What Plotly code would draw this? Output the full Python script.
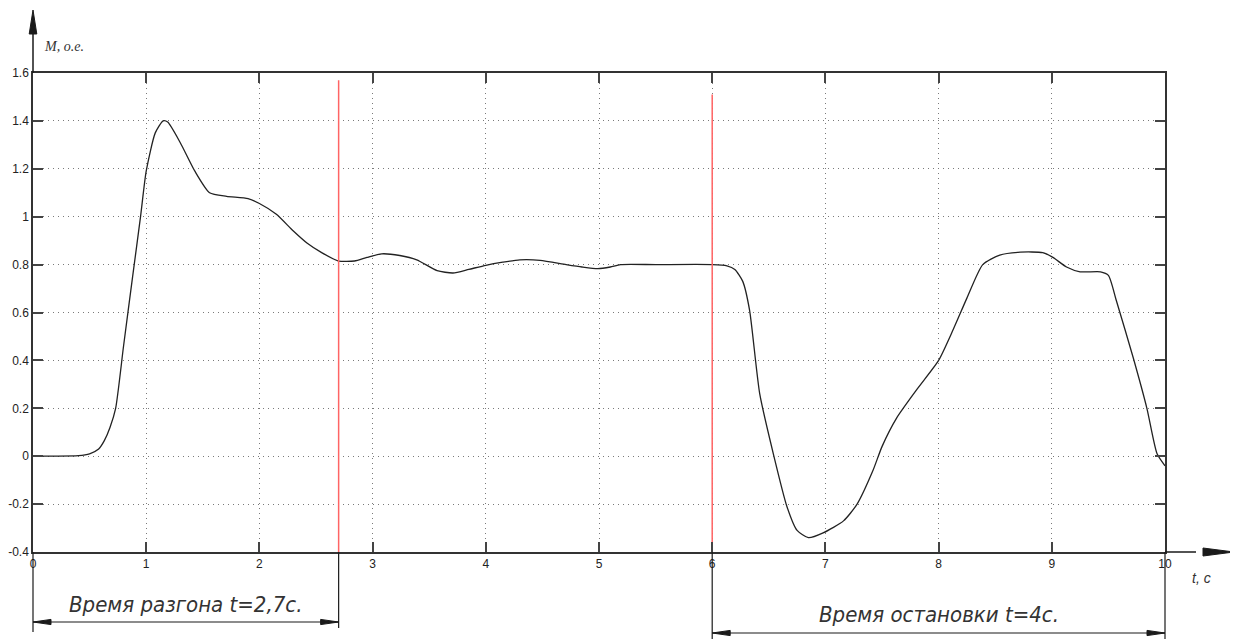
import plotly.graph_objects as go

# ---- data ----
t_values = [0, 0.2, 0.4, 0.5, 0.58, 0.63, 0.68, 0.73, 0.8, 0.88, 0.95, 1.0, 1.08, 1.15, 1.19,
            1.3, 1.43, 1.56, 1.71, 1.9, 2.0, 2.15, 2.3, 2.42, 2.55, 2.7, 2.84, 2.95, 3.08, 3.24,
            3.39, 3.57, 3.71, 3.85, 4.0, 4.15, 4.3, 4.48, 4.71, 4.85, 4.99, 5.1, 5.19, 5.5, 6.0,
            6.13, 6.2, 6.27, 6.33, 6.42, 6.54, 6.66, 6.75, 6.85, 6.98, 7.16, 7.28, 7.42, 7.5,
            7.63, 7.81, 8.0, 8.13, 8.25, 8.39, 8.54, 8.72, 8.92, 9.01, 9.13, 9.25, 9.43, 9.5,
            9.57, 9.72, 9.84, 9.93, 10.0]
m_values = [0, 0, 0.002, 0.01, 0.03, 0.065, 0.12, 0.2, 0.46, 0.75, 1.0, 1.19, 1.35, 1.40, 1.395,
            1.31, 1.19, 1.10, 1.085, 1.075, 1.055, 1.01, 0.94, 0.89, 0.85, 0.815, 0.815, 0.83, 0.845, 0.838,
            0.82, 0.775, 0.765, 0.78, 0.797, 0.81, 0.82, 0.818, 0.80, 0.79, 0.783, 0.79, 0.80, 0.80, 0.80,
            0.795, 0.78, 0.73, 0.61, 0.26, 0.01, -0.21, -0.31, -0.34, -0.32, -0.27, -0.20, -0.06, 0.04,
            0.16, 0.28, 0.40, 0.53, 0.66, 0.80, 0.84, 0.852, 0.85, 0.83, 0.79, 0.77, 0.77, 0.755,
            0.65, 0.41, 0.20, 0.01, -0.04]

marker_t = [2.7, 6.0]          # red vertical markers
marker_top = [1.57, 1.51]

x_ticks = [0, 1, 2, 3, 4, 5, 6, 7, 8, 9, 10]
x_labels = ["0", "1", "2", "3", "4", "5", "6", "7", "8", "9", "10"]
y_ticks = [-0.4, -0.2, 0, 0.2, 0.4, 0.6, 0.8, 1.0, 1.2, 1.4, 1.6]
y_labels = ["-0.4", "-0.2", "0", "0.2", "0.4", "0.6", "0.8", "1", "1.2", "1.4", "1.6"]

dim_start = [0, 6]
dim_end = [2.7, 10]
dim_labels = ["Время разгона t=2,7с.", "Время остановки t=4с."]

x_title = "t, c"
y_title = "M, o.e."

# ---- layout geometry (page pixels; the page body adds an 8px offset) ----
OFF = 8
W, H = 1238 - OFF, 639 - OFF
PL, PR, PT, PB = 33, 1165, 73, 552          # plot box in page pixels
ML, MT = PL - OFF, PT - OFF
MR, MB = W - (PR - OFF), H - (PB - OFF)
PW, PH = PR - PL, PB - PT
X_RANGE = [0, 10]
Y_RANGE = [-0.4, 1.6]


def px_to_paper_x(px):
    return (px - PL) / PW


def px_to_paper_y(py):
    return (PB - py) / PH


def data_to_paper_x(t):
    return (t - X_RANGE[0]) / (X_RANGE[1] - X_RANGE[0])


fig = go.Figure()

fig.add_trace(go.Scatter(x=t_values, y=m_values, mode="lines",
                         line=dict(color="#222222", width=1.3, shape="spline", smoothing=0.6),
                         hoverinfo="skip", showlegend=False))

for t, top in zip(marker_t, marker_top):
    fig.add_trace(go.Scatter(x=[t, t], y=[Y_RANGE[0], top], mode="lines",
                             line=dict(color="#ff6464", width=1.5),
                             hoverinfo="skip", showlegend=False))

shapes = []
annotations = []
dark = "#1a1a1a"

# y-axis extension and arrowhead
y_tip = px_to_paper_y(10)
y_base = px_to_paper_y(34)
shapes.append(dict(type="line", xref="paper", yref="paper", x0=0, x1=0, y0=1, y1=y_base,
                   line=dict(color=dark, width=1.5)))
hx = 3.8 / PW
shapes.append(dict(type="path", xref="paper", yref="paper",
                   path=f"M {-hx} {y_base} L 0 {y_tip} L {hx} {y_base} Z",
                   fillcolor=dark, line=dict(color=dark, width=1)))

# x-axis extension and arrowhead
x_tip = px_to_paper_x(1234)
x_base = px_to_paper_x(1203)
shapes.append(dict(type="line", xref="paper", yref="paper", x0=1, x1=px_to_paper_x(1196), y0=0, y1=0,
                   line=dict(color=dark, width=1.5)))
hy = 4 / PH
shapes.append(dict(type="path", xref="paper", yref="paper",
                   path=f"M {x_base} {-hy} L {x_tip} 0 L {x_base} {hy} Z",
                   fillcolor=dark, line=dict(color=dark, width=1)))

# dimension lines
ext_bottoms = [[632, 628], [639, 639]]
arrow_ys = [622, 633]
text_ys = [604, 614]
ah_len = 18 / PW
ah_h = 2.6 / PH
for i in range(len(dim_start)):
    xs, xe = data_to_paper_x(dim_start[i]), data_to_paper_x(dim_end[i])
    for xv, yb in zip([xs, xe], ext_bottoms[i]):
        shapes.append(dict(type="line", xref="paper", yref="paper", x0=xv, x1=xv,
                           y0=0, y1=px_to_paper_y(yb), line=dict(color=dark, width=1.2)))
    ya = px_to_paper_y(arrow_ys[i])
    shapes.append(dict(type="line", xref="paper", yref="paper", x0=xs, x1=xe, y0=ya, y1=ya,
                       line=dict(color=dark, width=1.2)))
    shapes.append(dict(type="path", xref="paper", yref="paper",
                       path=f"M {xs} {ya} L {xs + ah_len} {ya + ah_h} L {xs + ah_len} {ya - ah_h} Z",
                       fillcolor=dark, line=dict(color=dark, width=1)))
    shapes.append(dict(type="path", xref="paper", yref="paper",
                       path=f"M {xe} {ya} L {xe - ah_len} {ya + ah_h} L {xe - ah_len} {ya - ah_h} Z",
                       fillcolor=dark, line=dict(color=dark, width=1)))
    annotations.append(dict(text=dim_labels[i], xref="paper", yref="paper",
                            x=(xs + xe) / 2, y=px_to_paper_y(text_ys[i]),
                            xanchor="center", yanchor="middle", showarrow=False,
                            font=dict(family="Liberation Sans Narrow, DejaVu Sans Condensed, Arial",
                                      size=22, color="#333333", style="italic")))

annotations.append(dict(text=y_title, xref="paper", yref="paper",
                        x=px_to_paper_x(42), y=px_to_paper_y(46), xanchor="left", yanchor="middle",
                        showarrow=False,
                        font=dict(family="Liberation Serif, Times New Roman, serif", size=14,
                                  color="#333333", style="italic")))
annotations.append(dict(text=x_title, xref="paper", yref="paper",
                        x=px_to_paper_x(1201), y=px_to_paper_y(578), xanchor="center", yanchor="middle",
                        showarrow=False,
                        font=dict(family="Liberation Sans Narrow, Arial", size=14,
                                  color="#333333", style="italic")))

axis_common = dict(showgrid=True, gridcolor="#7a7a7a", gridwidth=1, griddash="1px,4px",
                   zeroline=False, showline=True, linecolor="#333333", linewidth=1.5,
                   mirror="ticks", ticks="inside", ticklen=10, tickwidth=1.5, tickcolor="#444444",
                   automargin=False,
                   tickfont=dict(family="Liberation Sans, Arial", size=12, color="#222222"))

fig.update_layout(
    width=W, height=H,
    margin=dict(l=ML, r=MR, t=MT, b=MB, pad=0),
    paper_bgcolor="white", plot_bgcolor="white",
    showlegend=False,
    xaxis=dict(range=X_RANGE, tickmode="array", tickvals=x_ticks, ticktext=x_labels, **axis_common),
    yaxis=dict(range=Y_RANGE, tickmode="array", tickvals=y_ticks, ticktext=y_labels, **axis_common),
    shapes=shapes,
    annotations=annotations,
)

fig.write_html("out.html")
